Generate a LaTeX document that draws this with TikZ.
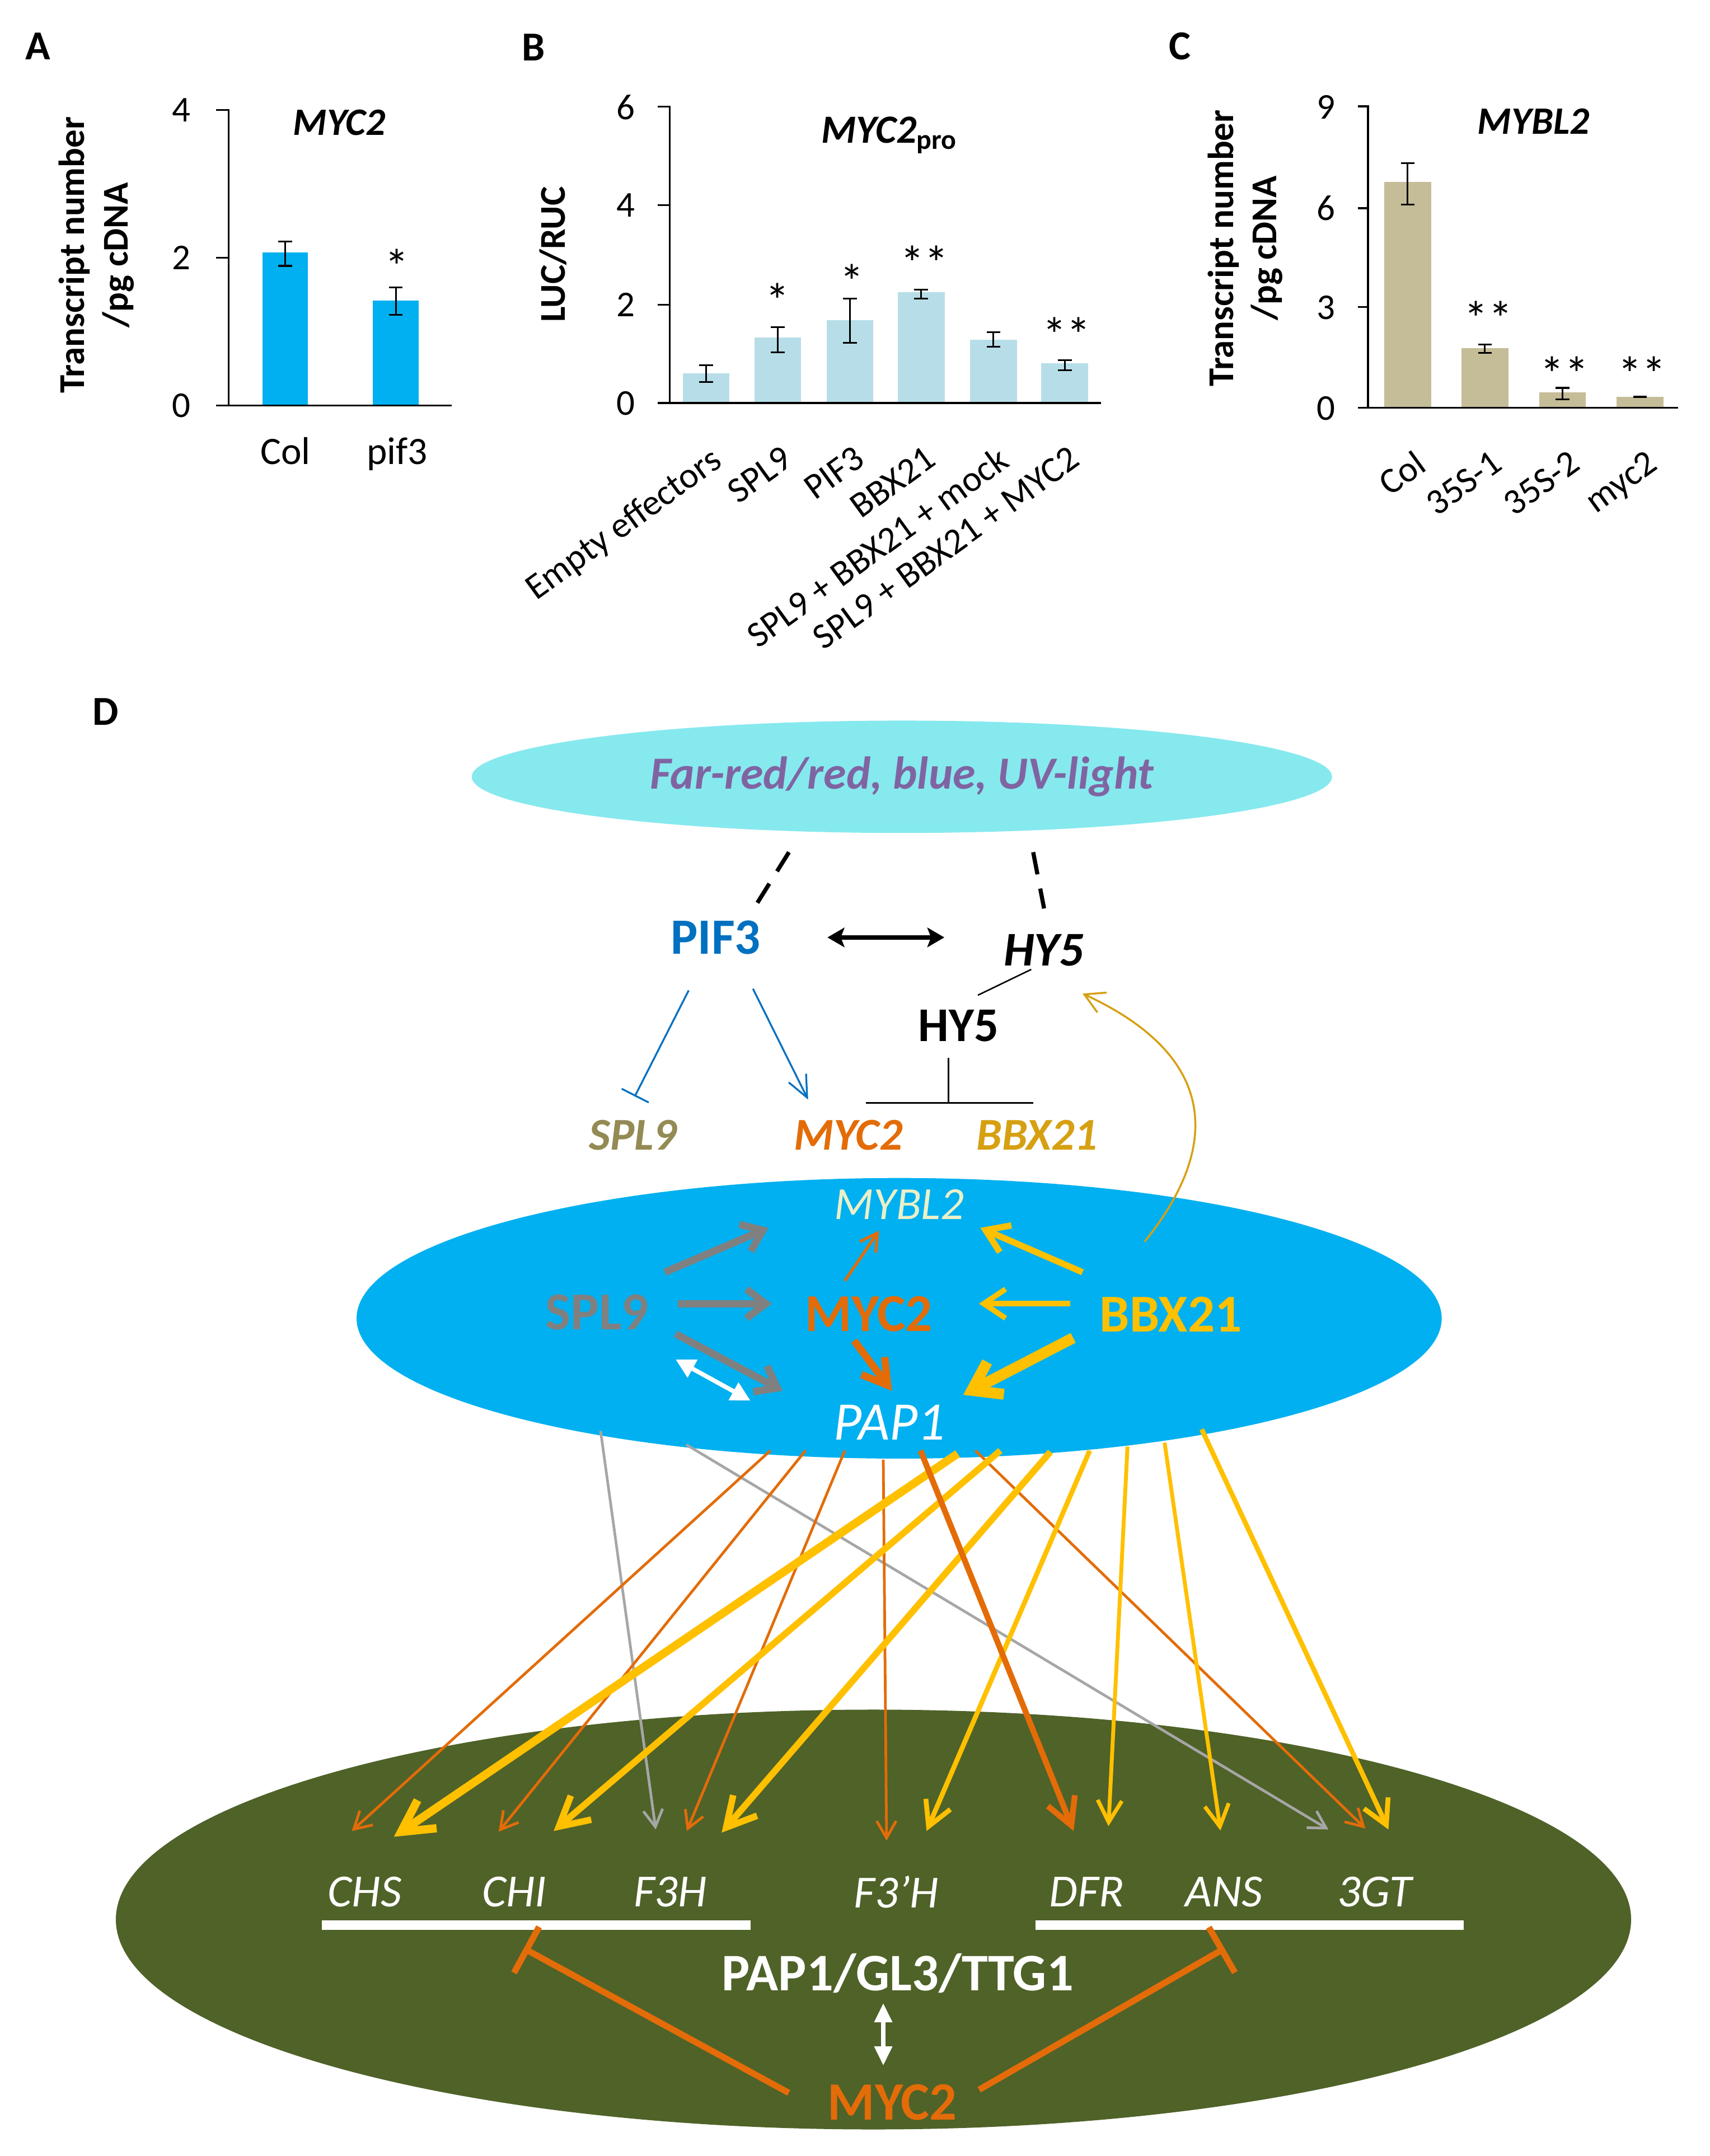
\documentclass[tikz,border=0pt]{standalone}
\usepackage{fontspec}
\setmainfont{Carlito}
\usetikzlibrary{arrows.meta,shapes.geometric}
\definecolor{barA}{RGB}{0,176,240}
\definecolor{barB}{RGB}{183,222,232}
\definecolor{barC}{RGB}{196,189,151}
\definecolor{lcyan}{RGB}{134,233,238}
\definecolor{purp}{RGB}{128,100,162}
\definecolor{pifblue}{RGB}{0,112,192}
\definecolor{olivet}{RGB}{148,138,84}
\definecolor{orng}{RGB}{227,108,9}
\definecolor{goldy}{RGB}{255,192,0}
\definecolor{dgold}{RGB}{214,160,18}
\definecolor{skyb}{RGB}{0,176,240}
\definecolor{dgreen}{RGB}{79,98,40}
\definecolor{gry}{RGB}{128,128,128}
\definecolor{lgry}{RGB}{166,166,166}
\definecolor{cream}{RGB}{235,240,200}
\newcommand{\fsz}[1]{\fontsize{#1}{#1}\selectfont}
\newcommand{\errbar}[3]{\draw[err] (#1,#2) -- (#1,#3) (#1-5,#2) -- (#1+5,#2) (#1-5,#3) -- (#1+5,#3);}
\begin{document}
\begin{tikzpicture}[x=0.02cm,y=-0.02cm,
  lbl/.style={font=\fsz{17pt}\bfseries, inner sep=0},
  tick/.style={font=\fsz{15pt}, inner sep=0},
  ttl/.style={font=\fsz{16pt}\bfseries\itshape, inner sep=0},
  ylab/.style={font=\fontsize{15pt}{18pt}\selectfont\bfseries, rotate=90, align=center, inner sep=0},
  xlab/.style={font=\fsz{16pt}, inner sep=0},
  rlab/.style={font=\fsz{15pt}, rotate=36, anchor=north east, inner sep=0},
  star/.style={font=\fsz{20pt}, inner sep=0},
  axis/.style={line width=0.8pt},
  err/.style={line width=0.7pt},
  gene/.style={font=\fsz{19pt}\itshape, text=white, inner sep=0},
  dashln/.style={line width=1.7pt, dash pattern=on 9.3pt off 6pt},
  garr/.style={gry, line width=3pt, -{Straight Barb[length=8pt,width=12pt]}},
  fanGray/.style={lgry, line width=1.1pt, -{Straight Barb[length=7pt,width=8pt]}},
  fanO/.style={orng, line width=1.1pt, -{Straight Barb[length=7pt,width=8pt]}},
  fanOT/.style={orng, line width=2.4pt, -{Straight Barb[length=11pt,width=12pt]}},
  fanG3/.style={goldy, line width=3.4pt, -{Straight Barb[length=13pt,width=14pt]}},
  fanG2/.style={goldy, line width=2.7pt, -{Straight Barb[length=12pt,width=13pt]}},
  fanG1/.style={goldy, line width=2pt, -{Straight Barb[length=10pt,width=11pt]}},
  fanG0/.style={goldy, line width=1.6pt, -{Straight Barb[length=9pt,width=10pt]}}
]
\useasboundingbox (0,0) rectangle (1240,1563.5);

%% ---------------- Panel A ----------------
\node[lbl] (labA) at (27.5,33.5) {A};
\fill[barA] (190.3,183.1) rectangle (223.1,294.1);
\fill[barA] (270.5,217.8) rectangle (303.6,294.1);
\errbar{206.7}{175.1}{192.8}
\errbar{287}{208.4}{228.4}
\draw[axis] (156.6,79.7) -- (165.7,79.7) -- (165.7,294.1);
\draw[axis] (156.6,186.9) -- (165.7,186.9);
\draw[axis] (156.6,294.1) -- (327.5,294.1);
\node[tick] (a4) at (131.5,80) {4};
\node[tick] (a2) at (131.5,187) {2};
\node[tick] (a0) at (131.5,294) {0};
\node[ttl] (aT) at (246,89) {MYC2};
\node[star] (aS) at (287.9,193) {*};
\node[ylab] (aY) at (70,185) {Transcript number\\/pg cDNA};
\node[xlab, anchor=base] (aX1) at (207,336.5) {Col};
\node[xlab, anchor=base] (aX2) at (288,336.5) {pif3};

%% ---------------- Panel B ----------------
\node[lbl] (labB) at (386.8,34.2) {B};
\foreach \cx/\v/\lo/\hi in {512/0.6/0.43/0.77, 564/1.33/1.03/1.54, 616.3/1.68/1.22/2.11, 668/2.24/2.11/2.30, 720.4/1.28/1.14/1.43, 772.1/0.81/0.66/0.87}{
  \fill[barB] (\cx-17,{292.3-\v*35.82}) rectangle (\cx+17,292.3);
  \draw[err] (\cx,{292.3-\lo*35.82}) -- (\cx,{292.3-\hi*35.82})
     (\cx-5,{292.3-\lo*35.82}) -- (\cx+5,{292.3-\lo*35.82})
     (\cx-5,{292.3-\hi*35.82}) -- (\cx+5,{292.3-\hi*35.82});
}
\draw[axis] (477,77.4) -- (485.7,77.4) -- (485.7,292.3);
\draw[axis] (477,148.8) -- (485.7,148.8) (477,220.9) -- (485.7,220.9);
\draw[axis] (477,292.3) -- (798.5,292.3);
\node[tick] (b6) at (453.7,78) {6};
\node[tick] (b4) at (453.7,149) {4};
\node[tick] (b2) at (453.7,221) {2};
\node[tick] (b0) at (453.7,292.5) {0};
\node[inner sep=0] (bT) at (645,98) {\fsz{16.5pt}\bfseries{\itshape MYC2}\textsubscript{pro}};
\node[ylab] (bY) at (401,184.6) {LUC/RUC};
\node[star] (bS1) at (564,218) {*};
\node[star] (bS2) at (617.8,204) {*};
\node[star] (bS3) at (670.5,190.6) {**};
\node[star] (bS4) at (773.6,242.7) {**};
\node[rlab] (bX1) at (514,322) {Empty effectors};
\node[rlab] (bX2) at (566,322) {SPL9};
\node[rlab] (bX3) at (618.3,322) {PIF3};
\node[rlab] (bX4) at (670,322) {BBX21};
\node[rlab] (bX5) at (722.4,322) {SPL9 + BBX21 + mock};
\node[rlab] (bX6) at (774.1,322) {SPL9 + BBX21 + MYC2};

%% ---------------- Panel C ----------------
\node[lbl] (labC) at (855.5,33.7) {C};
\foreach \cx/\v/\lo/\hi in {1020.8/6.74/6.07/7.3, 1076.8/1.78/1.64/1.89, 1133/0.45/0.24/0.59, 1189.2/0.32/0.31/0.33}{
  \fill[barC] (\cx-17,{295.6-\v*24.28}) rectangle (\cx+17,295.6);
  \draw[err] (\cx,{295.6-\lo*24.28}) -- (\cx,{295.6-\hi*24.28})
     (\cx-5,{295.6-\lo*24.28}) -- (\cx+5,{295.6-\lo*24.28})
     (\cx-5,{295.6-\hi*24.28}) -- (\cx+5,{295.6-\hi*24.28});
}
\draw[axis] (984.6,77.1) -- (992,77.1) -- (992,295.6);
\draw[axis] (984.6,150.9) -- (992,150.9) (984.6,222.6) -- (992,222.6);
\draw[axis] (984.6,295.6) -- (1216.8,295.6);
\node[tick] (c9) at (961.4,77.5) {9};
\node[tick] (c6) at (961.4,151) {6};
\node[tick] (c3) at (961.4,223) {3};
\node[tick] (c0) at (961.4,296) {0};
\node[ttl] (cT) at (1112,88) {MYBL2};
\node[ylab] (cY) at (903,180) {Transcript number\\/pg cDNA};
\node[star] (cS1) at (1079.3,231) {**};
\node[star] (cS2) at (1134.5,271) {**};
\node[star] (cS3) at (1190.8,271) {**};
\node[rlab] (cX1) at (1024.8,325) {Col};
\node[rlab] (cX2) at (1080.8,325) {35S-1};
\node[rlab] (cX3) at (1137,325) {35S-2};
\node[rlab] (cX4) at (1193.2,325) {myc2};

%% ---------------- Panel D ----------------
\node[lbl] (labD) at (76.4,516.2) {D};

% ellipses
\node[ellipse, fill=lcyan, inner sep=0, minimum width=12.48cm, minimum height=1.63cm,
      text=purp, font=\fsz{19pt}\bfseries\itshape] (light) at (654,563.3) {Far-red/red, blue, UV-light};
\node[ellipse, fill=skyb, inner sep=0, minimum width=15.74cm, minimum height=4.07cm] (blueell) at (652,956) {};
\node[ellipse, fill=dgreen, inner sep=0, minimum width=21.98cm, minimum height=6.09cm] (greenell) at (633.4,1392) {};

% top nodes
\node[inner sep=0, text=pifblue, font=\fsz{21pt}\bfseries] (pif3) at (519,680) {PIF3};
\node[inner sep=0, font=\fsz{20pt}\bfseries\itshape] (hy5i) at (757,689) {HY5};
\node[inner sep=0, font=\fsz{20pt}\bfseries] (hy5) at (695,744) {HY5};
\node[inner sep=0, text=olivet, font=\fsz{18.8pt}\bfseries\itshape] (spl9t) at (459,823) {SPL9};
\node[inner sep=0, text=orng, font=\fsz{18.8pt}\bfseries\itshape] (myc2t) at (615,823) {MYC2};
\node[inner sep=0, text=dgold, font=\fsz{18.8pt}\bfseries\itshape] (bbx21t) at (752,823) {BBX21};

% blue ellipse nodes
\node[inner sep=0, text=cream, font=\fsz{19pt}\itshape] (mybl2) at (652,873.3) {MYBL2};
\node[inner sep=0, text=gry, font=\fsz{22pt}\bfseries] (spl9) at (432.9,951.6) {SPL9};
\node[inner sep=0, text=orng, font=\fsz{22pt}\bfseries] (myc2) at (630,953) {MYC2};
\node[inner sep=0, text=goldy, font=\fsz{22pt}\bfseries] (bbx21) at (849,953) {BBX21};
\node[inner sep=0, text=white, font=\fsz{22.4pt}\itshape] (pap1) at (645,1031.4) {PAP1};

% green ellipse nodes
\node[gene] (chs) at (264.5,1372) {CHS};
\node[gene] (chi) at (373,1372) {CHI};
\node[gene] (f3h) at (486,1372) {F3H};
\node[gene] (f3ph) at (650,1372) {F3’H};
\node[gene] (dfr) at (788,1372) {DFR};
\node[gene] (ans) at (887.5,1372) {ANS};
\node[gene] (gt3) at (997,1372) {3GT};
\draw[white, line width=4pt] (233.4,1396) coordinate (barL1) -- (544.3,1396) coordinate (barL2);
\draw[white, line width=4pt] (751,1396) coordinate (barR1) -- (1061.5,1396) coordinate (barR2);
\node[inner sep=0, text=white, font=\fsz{21.8pt}\bfseries] (cplx) at (651,1431) {PAP1/GL3/TTG1};
\node[inner sep=0, text=orng, font=\fsz{22.3pt}\bfseries] (myc2b) at (647,1524.5) {MYC2};

% ---- top connectors
\coordinate (d1a) at (572.1,618); \coordinate (d1b) at (547.4,657.6);
\coordinate (d2a) at (749.2,618); \coordinate (d2b) at (757.1,658.8);
\draw[dashln] (d1a) -- (d1b);
\draw[dashln] (d2a) -- (d2b);
\coordinate (pa) at (600,679.8); \coordinate (pb) at (684.8,679.8);
\draw[line width=1.7pt, {Stealth[length=7pt,width=8pt,inset=1.5pt]}-{Stealth[length=7pt,width=8pt,inset=1.5pt]}] (pa) -- (pb);
\coordinate (h1) at (747.8,703); \coordinate (h2) at (709.1,721.7);
\draw[line width=0.6pt] (h1) -- (h2);
\coordinate (hT1) at (687.7,767.1); \coordinate (hT2) at (687.7,799.8);
\coordinate (hB1) at (628,799.8); \coordinate (hB2) at (749.2,799.8);
\draw[line width=0.6pt] (hT1) -- (hT2) (hB1) -- (hB2);
\coordinate (pi1) at (499.4,718.2); \coordinate (pi2) at (460.3,795.1);
\draw[pifblue, line width=0.75pt, -{Bar[width=12.5pt]}] (pi1) -- (pi2);
\coordinate (pm1) at (546,717); \coordinate (pm2) at (586,797.4);
\draw[pifblue, line width=0.75pt, -{Straight Barb[length=9pt,width=8pt]}] (pm1) -- (pm2);
\coordinate (cv1) at (830,900.4); \coordinate (cv2) at (785,720.5);
\draw[dgold, line width=0.8pt, -{Straight Barb[length=8pt,width=9pt]}] (cv1) .. controls (879,840) and (892,770) .. (cv2);

% ---- blue ellipse connectors
\coordinate (g1s) at (482.1,922.6); \coordinate (g1e) at (557.2,890.4);
\coordinate (g2s) at (491.4,945.4); \coordinate (g2e) at (559.7,945.4);
\coordinate (g3s) at (489.9,967.3); \coordinate (g3e) at (567.5,1008.6);
\draw[garr] (g1s) -- (g1e);
\draw[garr] (g2s) -- (g2e);
\draw[garr] (g3s) -- (g3e);
\coordinate (w1s) at (489.9,985.8); \coordinate (w1e) at (544.2,1015.7);
\draw[white, line width=1.8pt, {Triangle[length=8pt,width=8pt]}-{Triangle[length=8pt,width=8pt]}] (w1s) -- (w1e);
\coordinate (o1s) at (612.6,928.9); \coordinate (o1e) at (637.4,892.4);
\draw[orng, line width=1.2pt, -{Straight Barb[length=7pt,width=8pt]}] (o1s) -- (o1e);
\coordinate (o2s) at (619.3,972.2); \coordinate (o2e) at (646.7,1008.6);
\draw[orng, line width=3pt, -{Straight Barb[length=10pt,width=12pt]}] (o2s) -- (o2e);
\coordinate (y1s) at (785,922.6); \coordinate (y1e) at (710.9,890.4);
\draw[goldy, line width=2.6pt, -{Straight Barb[length=9pt,width=12pt]}] (y1s) -- (y1e);
\coordinate (y2s) at (776.2,945.4); \coordinate (y2e) at (709.9,945.4);
\draw[goldy, line width=2.2pt, -{Straight Barb[length=9pt,width=12pt]}] (y2s) -- (y2e);
\coordinate (y3s) at (778.2,970.2); \coordinate (y3e) at (698.5,1011.5);
\draw[goldy, line width=4.5pt, -{Straight Barb[length=11pt,width=15pt]}] (y3s) -- (y3e);

% ---- fan connectors
\coordinate (s1) at (435.5,1037.6);  \coordinate (e5) at (475.5,1326.7);
\coordinate (s2) at (497.6,1047.6);  \coordinate (e13) at (963.3,1326.7);
\coordinate (s3) at (558.7,1051.9);  \coordinate (e1) at (255.1,1327.8);
\coordinate (s4) at (584.1,1051.9);  \coordinate (e3) at (361.6,1328.3);
\coordinate (s5) at (612.6,1051.9);  \coordinate (e6) at (498,1327.8);
\coordinate (s6) at (640.5,1058.5);  \coordinate (e8) at (642.9,1334.8);
\coordinate (s7) at (667.5,1051.9);  \coordinate (e10) at (778.5,1327.8);
\coordinate (s8) at (694.4,1054.2);  \coordinate (e2) at (285.6,1332);
\coordinate (s9) at (707.3,1051.9);  \coordinate (e14) at (990.1,1326);
\coordinate (s10) at (725.4,1051.9); \coordinate (e4) at (401.5,1327.8);
\coordinate (s11) at (761.7,1052.8); \coordinate (e7) at (523.3,1329);
\coordinate (s12) at (790.2,1051.9); \coordinate (e9) at (671.9,1327.8);
\coordinate (s13) at (817.6,1049);   \coordinate (e11) at (803.8,1324.3);
\coordinate (s14) at (844.5,1046.2); \coordinate (e12) at (885,1327.4);
\coordinate (s15) at (871.4,1036.5); \coordinate (e15) at (1006.8,1326.7);
\foreach \a/\b/\st in {s1/e5/fanGray, s2/e13/fanGray, s3/e1/fanO, s4/e3/fanO, s5/e6/fanO,
   s6/e8/fanO, s9/e14/fanO, s8/e2/fanG3, s10/e4/fanG2, s11/e7/fanG2, s12/e9/fanG1,
   s13/e11/fanG0, s14/e12/fanG0, s15/e15/fanG1, s7/e10/fanOT}
  \draw[\st] (\a) -- (\b);

% ---- bottom connectors
\coordinate (mL) at (572,1517.7); \coordinate (tL) at (379.8,1412.9);
\coordinate (mR) at (710,1515.4); \coordinate (tR) at (888,1412.9);
\draw[orng, line width=2.6pt, -{Bar[width=21.6pt]}] (mL) -- (tL);
\draw[orng, line width=2.6pt, -{Bar[width=21.6pt]}] (mR) -- (tR);
\coordinate (v1) at (640.5,1452.5); \coordinate (v2) at (640.5,1498);
\draw[white, line width=2pt, {Triangle[length=8pt,width=7pt]}-{Triangle[length=8pt,width=7pt]}] (v1) -- (v2);
\end{tikzpicture}
\end{document}
